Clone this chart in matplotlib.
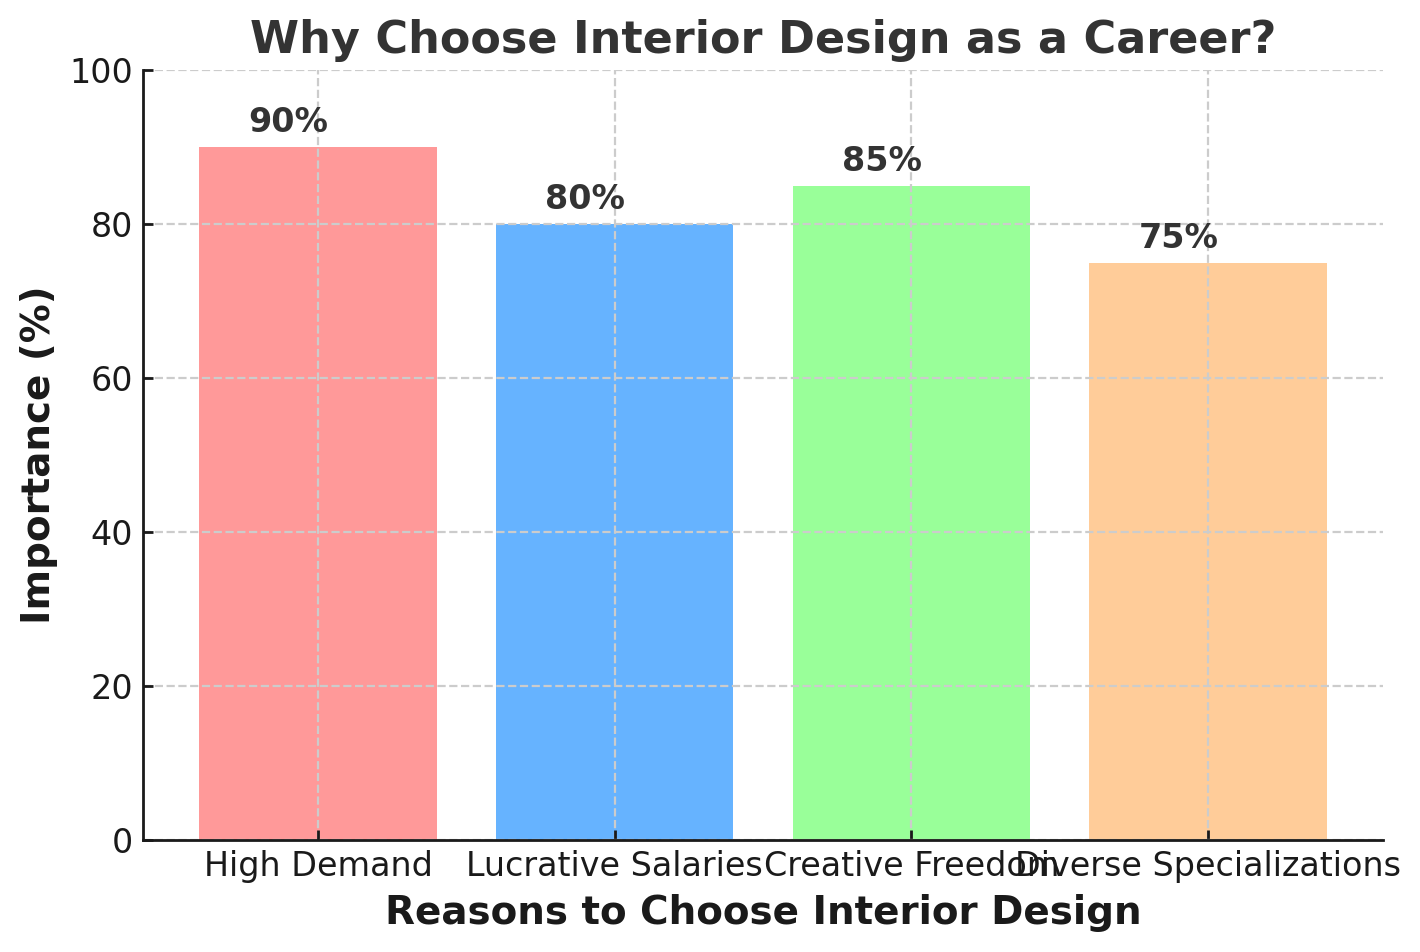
import matplotlib
matplotlib.use("Agg")
import matplotlib.pyplot as plt

categories = ["High Demand", "Lucrative Salaries", "Creative Freedom", "Diverse Specializations"]
values = [90, 80, 85, 75]
colors = ["#ff9999", "#66b3ff", "#99ff99", "#ffcc99"]

fig, ax = plt.subplots(figsize=(7.1, 4.76), dpi=200)
bars = ax.bar(categories, values, color=colors, width=0.8, zorder=2)
for b, v in zip(bars, values):
    ax.text(b.get_x() + b.get_width() / 2 - 0.1, v + 1, f"{v}%", ha="center", va="bottom",
            fontsize=12, fontweight="bold", color="#333333")

ax.set_ylim(0, 100)
ax.set_title("Why Choose Interior Design as a Career?", fontsize=16, fontweight="bold", color="#333333")
ax.set_xlabel("Reasons to Choose Interior Design", fontsize=14, fontweight="bold", color="#1a1a1a")
ax.set_ylabel("Importance (%)", fontsize=14, fontweight="bold", color="#1a1a1a")
ax.tick_params(axis="both", direction="in", labelsize=12, colors="#1a1a1a", width=1)
ax.grid(True, linestyle="--", color="#cccccc", linewidth=0.8, zorder=0)
ax.set_axisbelow(False)
for s in ["top", "right"]:
    ax.spines[s].set_visible(False)
for s in ["left", "bottom"]:
    ax.spines[s].set_color("#1a1a1a")
    ax.spines[s].set_linewidth(1)
    ax.spines[s].set_zorder(3)
fig.subplots_adjust(left=143/1420, right=1383/1420, top=1-70/952, bottom=1-840/952)
fig.savefig("out.png", dpi=200)
